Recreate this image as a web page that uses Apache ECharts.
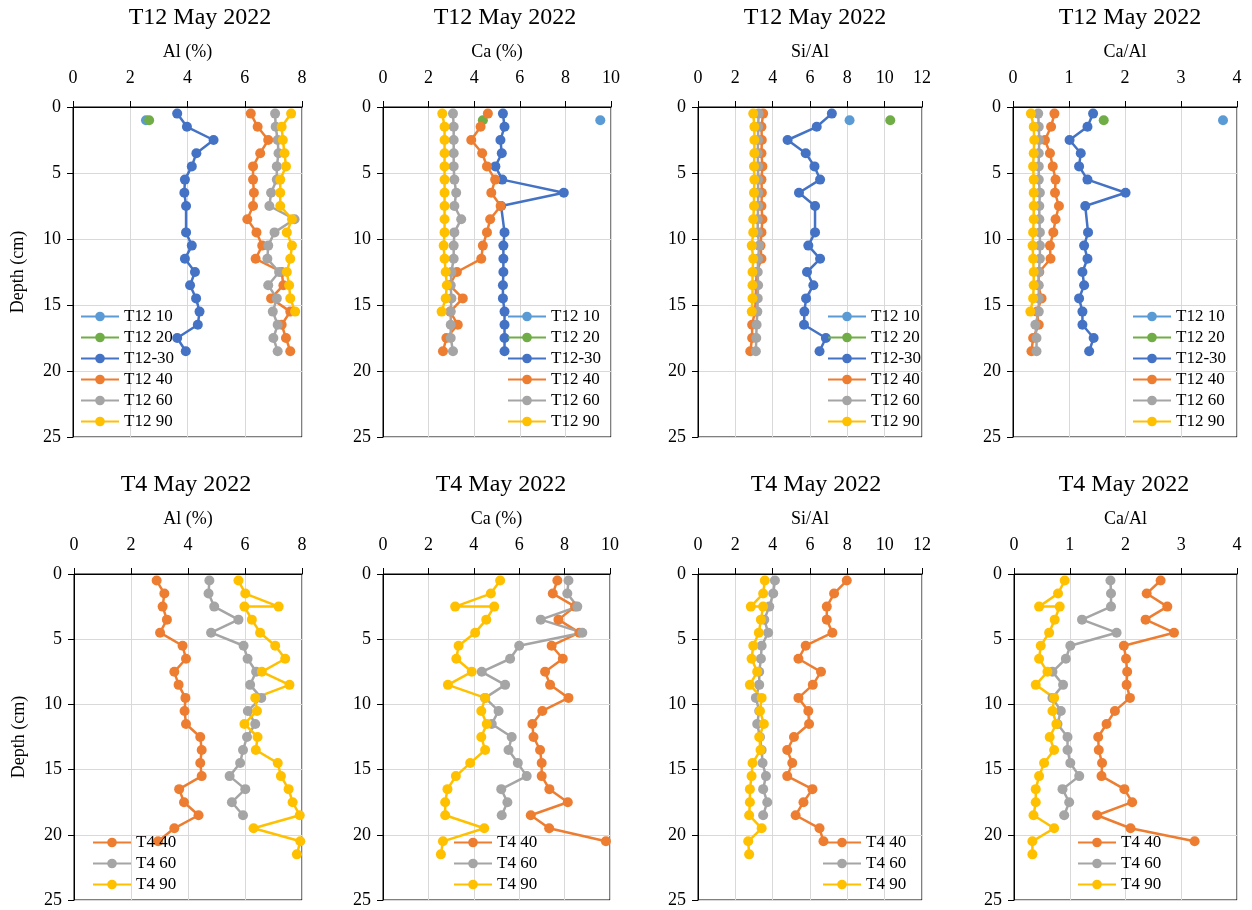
<!DOCTYPE html>
<html>
<head>
<meta charset="utf-8">
<script src="https://cdn.jsdelivr.net/npm/echarts@6/dist/echarts.min.js"></script>
<style>
html,body{margin:0;padding:0;background:#fff;}
#main{width:1252px;height:910px;}
</style>
</head>
<body>
<div id="main"></div>
<script>
// depths (cm)
var depthT12 = [0.5,1.5,2.5,3.5,4.5,5.5,6.5,7.5,8.5,9.5,10.5,11.5,12.5,13.5,14.5,15.5,16.5,17.5,18.5];
var depthT12_90 = [0.5,1.5,2.5,3.5,4.5,5.5,6.5,7.5,8.5,9.5,10.5,11.5,12.5,13.5,14.5,15.5];
var depthT12_pt = [1];
var depthT4_40 = [0.5,1.5,2.5,3.5,4.5,5.5,6.5,7.5,8.5,9.5,10.5,11.5,12.5,13.5,14.5,15.5,16.5,17.5,18.5,19.5,20.5];
var depthT4_60 = [0.5,1.5,2.5,3.5,4.5,5.5,6.5,7.5,8.5,9.5,10.5,11.5,12.5,13.5,14.5,15.5,16.5,17.5,18.5];
var depthT4_90 = [0.5,1.5,2.5,2.5,3.5,4.5,5.5,6.5,7.5,8.5,9.5,10.5,11.5,12.5,13.5,14.5,15.5,16.5,17.5,18.5,19.5,20.5,21.5];

// T12 Al (%)
var al_t12_10 = [2.55];
var al_t12_20 = [2.66];
var al_t12_30 = [3.64,3.98,4.91,4.31,4.15,3.91,3.89,3.95,null,3.95,4.15,3.91,4.26,4.09,4.30,4.42,4.36,3.64,3.94];
var al_t12_40 = [6.21,6.45,6.82,6.54,6.29,6.29,6.32,6.29,6.09,6.41,6.61,6.38,7.29,7.35,6.92,7.59,7.29,7.44,7.59];
var al_t12_60 = [7.06,7.08,7.15,7.18,7.12,7.12,6.92,6.86,7.74,7.04,6.82,6.79,7.20,6.82,7.12,6.98,7.15,7.00,7.15];
var al_t12_90 = [7.62,7.29,7.33,7.39,7.44,7.24,7.24,7.24,7.65,7.47,7.65,7.59,7.47,7.55,7.59,7.76];

// T12 Ca (%)
var ca_t12_10 = [9.53];
var ca_t12_20 = [4.38];
var ca_t12_30 = [5.26,5.33,5.15,5.21,4.93,5.23,7.93,5.18,null,5.33,5.28,5.28,5.28,5.26,5.26,5.33,5.33,5.33,5.33];
var ca_t12_40 = [4.60,4.28,3.87,4.35,4.56,4.92,4.75,5.16,4.70,4.56,4.38,4.31,3.24,2.92,3.50,2.95,3.28,2.78,2.63];
var ca_t12_60 = [3.07,3.10,3.10,3.10,3.10,3.13,3.21,3.13,3.43,3.13,3.10,3.10,3.00,2.97,3.00,2.97,2.97,2.97,3.07];
var ca_t12_90 = [2.60,2.70,2.70,2.70,2.70,2.70,2.70,2.70,2.70,2.70,2.66,2.70,2.75,2.80,2.75,2.57];

// T12 Si/Al
var si_t12_10 = [8.12];
var si_t12_20 = [10.30];
var si_t12_30 = [7.17,6.36,4.80,5.77,6.24,6.54,5.41,6.27,null,6.27,5.91,6.54,5.84,6.18,5.79,5.70,5.68,6.85,6.51];
var si_t12_40 = [3.49,3.40,3.42,3.40,3.45,3.40,3.42,3.40,3.45,3.40,3.35,3.40,3.15,3.10,3.10,3.05,2.90,2.90,2.80];
var si_t12_60 = [3.25,3.22,3.22,3.20,3.22,3.22,3.22,3.22,3.20,3.20,3.28,3.22,3.20,3.22,3.20,3.18,3.14,3.12,3.10];
var si_t12_90 = [2.96,3.02,3.02,3.02,3.00,3.02,3.00,3.00,2.96,2.96,2.88,2.96,2.92,2.92,2.92,2.88];

// T12 Ca/Al
var caal_t12_10 = [3.75];
var caal_t12_20 = [1.62];
var caal_t12_30 = [1.43,1.33,1.01,1.21,1.18,1.33,2.01,1.29,null,1.34,1.27,1.33,1.24,1.27,1.18,1.24,1.24,1.44,1.36];
var caal_t12_40 = [0.74,0.68,0.57,0.66,0.71,0.76,0.75,0.82,0.76,0.72,0.66,0.67,0.47,0.45,0.51,0.43,0.46,0.36,0.33];
var caal_t12_60 = [0.45,0.46,0.47,0.46,0.46,0.46,0.48,0.47,0.47,0.48,0.48,0.48,0.46,0.46,0.46,0.46,0.40,0.42,0.42];
var caal_t12_90 = [0.32,0.37,0.38,0.37,0.36,0.37,0.37,0.37,0.37,0.36,0.35,0.36,0.37,0.37,0.36,0.31];

// T4 Al (%)
var al_t4_40 = [2.90,3.17,3.11,3.26,3.02,3.81,3.93,3.52,3.67,3.91,3.88,3.93,4.43,4.48,4.43,4.48,3.69,3.86,4.37,3.52,2.95];
var al_t4_60 = [4.75,4.72,4.92,5.77,4.81,5.95,6.09,6.39,6.18,6.57,6.10,6.36,6.07,5.93,5.83,5.46,6.01,5.54,5.93];
var al_t4_90 = [5.77,6.01,7.18,5.98,6.24,6.53,7.06,7.41,6.59,7.56,6.36,6.42,5.98,6.44,6.38,7.15,7.26,7.53,7.67,7.92,6.30,7.94,7.82];

// T4 Ca (%)
var ca_t4_40 = [7.68,7.48,8.46,7.73,8.65,7.43,7.92,7.14,7.36,8.17,7.02,6.58,6.63,6.92,6.99,6.99,7.33,8.14,6.51,7.32,9.82];
var ca_t4_60 = [8.17,8.12,8.56,6.95,8.78,6.00,5.60,4.35,5.38,4.50,5.09,4.79,5.67,5.53,5.94,6.33,5.21,5.48,5.23];
var ca_t4_90 = [5.16,4.75,3.18,4.90,4.55,4.06,3.33,3.23,3.91,2.86,4.50,4.33,4.57,4.33,4.50,3.84,3.21,2.84,2.74,2.74,4.46,2.64,2.55];

// T4 Si/Al
var si_t4_40 = [7.97,7.29,6.90,6.90,7.20,5.77,5.38,6.59,6.15,5.38,5.91,5.95,5.14,4.78,5.05,4.78,6.13,5.65,5.23,6.51,6.72];
var si_t4_60 = [4.12,4.03,3.82,3.55,3.76,3.41,3.37,3.28,3.28,3.10,3.28,3.17,3.32,3.41,3.46,3.64,3.49,3.71,3.49];
var si_t4_90 = [3.58,3.49,2.83,3.49,3.37,3.26,2.96,2.87,3.17,2.78,3.41,3.32,3.53,3.28,3.35,2.92,2.87,2.78,2.78,2.74,3.41,2.69,2.74];

// T4 Ca/Al
var caal_t4_40 = [2.63,2.38,2.75,2.36,2.87,1.97,2.01,2.03,2.02,2.08,1.81,1.66,1.51,1.52,1.58,1.57,1.98,2.12,1.49,2.09,3.24];
var caal_t4_60 = [1.73,1.74,1.74,1.22,1.84,1.01,0.93,0.69,0.88,0.69,0.84,0.78,0.96,0.96,1.01,1.17,0.87,0.99,0.90];
var caal_t4_90 = [0.91,0.79,0.45,0.82,0.73,0.63,0.48,0.45,0.60,0.39,0.72,0.69,0.76,0.64,0.72,0.54,0.45,0.39,0.39,0.35,0.72,0.33,0.33];

var namesT12 = ['T12 10','T12 20','T12-30','T12 40','T12 60','T12 90'];
var namesT4 = ['T4 40','T4 60','T4 90'];
var colors = {
    'T12 10':'#5B9BD5','T12 20':'#70AD47','T12-30':'#4472C4',
    'T12 40':'#ED7D31','T12 60':'#A5A5A5','T12 90':'#FFC000',
    'T4 40':'#ED7D31','T4 60':'#A5A5A5','T4 90':'#FFC000'
};
var FONT = '"Liberation Serif", "Times New Roman", serif';

var panels = [
    {title:'T12 May 2022', axis:'Al (%)', max:8, interval:2, grid:[73,107,229,330], tx:200, legend:[80,308], names:namesT12,
     depths:[depthT12_pt,depthT12_pt,depthT12,depthT12,depthT12,depthT12_90], vals:[al_t12_10,al_t12_20,al_t12_30,al_t12_40,al_t12_60,al_t12_90]},
    {title:'T12 May 2022', axis:'Ca (%)', max:10, interval:2, grid:[383,107,228,330], tx:505, legend:[507,308], names:namesT12,
     depths:[depthT12_pt,depthT12_pt,depthT12,depthT12,depthT12,depthT12_90], vals:[ca_t12_10,ca_t12_20,ca_t12_30,ca_t12_40,ca_t12_60,ca_t12_90]},
    {title:'T12 May 2022', axis:'Si/Al', max:12, interval:2, grid:[698,107,224,330], tx:815, legend:[827,308], names:namesT12,
     depths:[depthT12_pt,depthT12_pt,depthT12,depthT12,depthT12,depthT12_90], vals:[si_t12_10,si_t12_20,si_t12_30,si_t12_40,si_t12_60,si_t12_90]},
    {title:'T12 May 2022', axis:'Ca/Al', max:4, interval:1, grid:[1013,107,224,330], tx:1130, legend:[1132,308], names:namesT12,
     depths:[depthT12_pt,depthT12_pt,depthT12,depthT12,depthT12,depthT12_90], vals:[caal_t12_10,caal_t12_20,caal_t12_30,caal_t12_40,caal_t12_60,caal_t12_90]},
    {title:'T4 May 2022', axis:'Al (%)', max:8, interval:2, grid:[74,574,228,326], tx:186, legend:[92,834], names:namesT4,
     depths:[depthT4_40,depthT4_60,depthT4_90], vals:[al_t4_40,al_t4_60,al_t4_90]},
    {title:'T4 May 2022', axis:'Ca (%)', max:10, interval:2, grid:[383,574,227,326], tx:501, legend:[453,834], names:namesT4,
     depths:[depthT4_40,depthT4_60,depthT4_90], vals:[ca_t4_40,ca_t4_60,ca_t4_90]},
    {title:'T4 May 2022', axis:'Si/Al', max:12, interval:2, grid:[698,574,224,326], tx:816, legend:[822,834], names:namesT4,
     depths:[depthT4_40,depthT4_60,depthT4_90], vals:[si_t4_40,si_t4_60,si_t4_90]},
    {title:'T4 May 2022', axis:'Ca/Al', max:4, interval:1, grid:[1014,574,223,326], tx:1124, legend:[1077,834], names:namesT4,
     depths:[depthT4_40,depthT4_60,depthT4_90], vals:[caal_t4_40,caal_t4_60,caal_t4_90]}
];

var option = {
    animation:false,
    backgroundColor:'#fff',
    textStyle:{fontFamily:FONT, color:'#000'},
    title:[], grid:[], xAxis:[], yAxis:[], legend:[], series:[]
};

panels.forEach(function(p, i){
    option.title.push({
        text:p.title, left:p.tx, top:p.grid[1] < 300 ? 6 : 473, textAlign:'center', padding:0,
        textStyle:{fontFamily:FONT, fontSize:24, fontWeight:'normal', color:'#000'}
    });
    option.grid.push({
        left:p.grid[0], top:p.grid[1], width:p.grid[2], height:p.grid[3],
        show:true, borderColor:'#000', borderWidth:1, backgroundColor:'transparent'
    });
    option.xAxis.push({
        type:'value', gridIndex:i, position:'top', min:0, max:p.max, interval:p.interval,
        name:p.axis, nameLocation:'middle', nameGap:46,
        nameTextStyle:{fontFamily:FONT, fontSize:18, color:'#000'},
        axisLine:{show:true, lineStyle:{color:'#000', width:1}},
        axisTick:{show:true, length:6, lineStyle:{color:'#000'}},
        axisLabel:{fontFamily:FONT, fontSize:18, color:'#000', margin:20},
        splitLine:{show:true, lineStyle:{color:'#d9d9d9', width:1}}
    });
    option.yAxis.push({
        type:'value', gridIndex:i, inverse:true, min:0, max:25, interval:5,
        name:(i % 4 === 0) ? 'Depth (cm)' : '', nameLocation:'middle', nameGap:46, nameRotate:90,
        nameTextStyle:{fontFamily:FONT, fontSize:18, color:'#000'},
        axisLine:{show:true, lineStyle:{color:'#000', width:1}},
        axisTick:{show:true, length:6, lineStyle:{color:'#000'}},
        axisLabel:{fontFamily:FONT, fontSize:18, color:'#000', margin:12},
        splitLine:{show:true, lineStyle:{color:'#d9d9d9', width:1}}
    });
    option.legend.push({
        orient:'vertical', left:p.legend[0], top:p.legend[1], padding:0,
        itemWidth:38, itemHeight:12, itemGap:4,
        data:p.names,
        textStyle:{fontFamily:FONT, fontSize:17, color:'#000'}
    });
    p.names.forEach(function(n, k){
        var pts = [];
        p.depths[k].forEach(function(d, j){
            if (p.vals[k][j] !== null) pts.push([p.vals[k][j], d]);
        });
        option.series.push({
            name:n, type:'line', xAxisIndex:i, yAxisIndex:i,
            data:pts, symbol:'circle', symbolSize:10, showSymbol:true,
            itemStyle:{color:colors[n]},
            lineStyle:{color:colors[n], width:2.5},
            emphasis:{disabled:true}
        });
    });
});

var myChart = echarts.init(document.getElementById('main'));
myChart.setOption(option);
</script>
</body>
</html>
